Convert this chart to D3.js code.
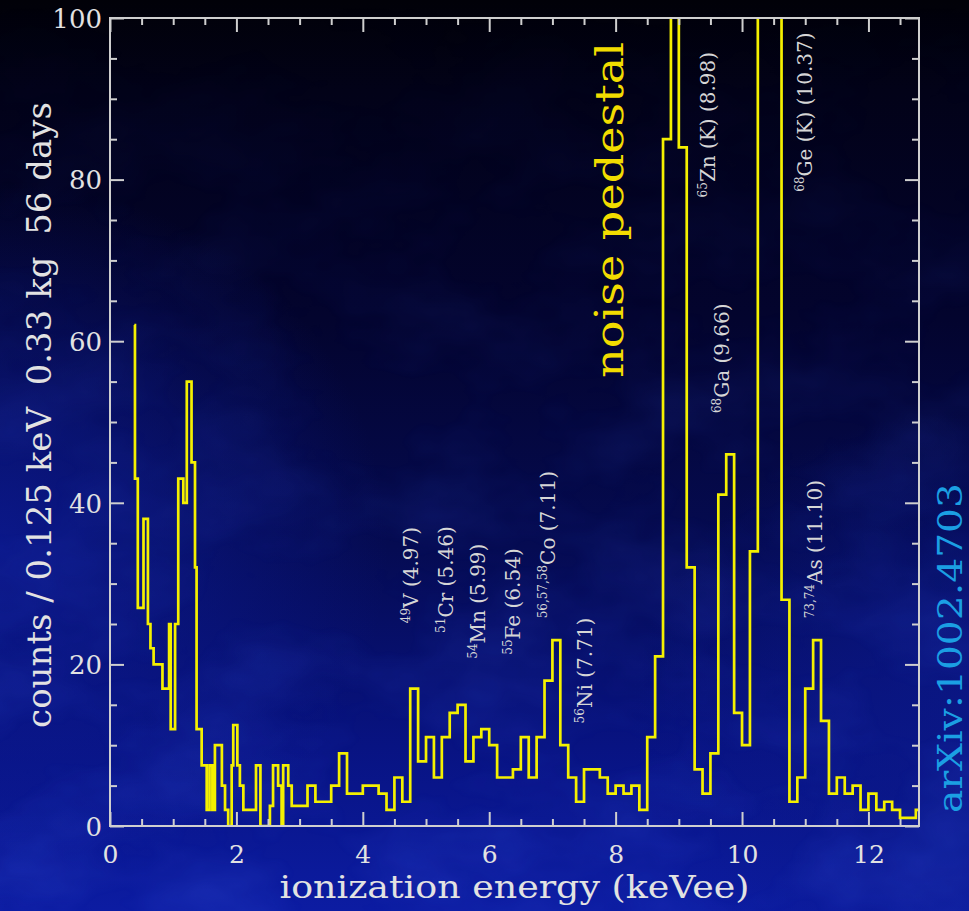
<!DOCTYPE html>
<html>
<head>
<meta charset="utf-8">
<script src="https://cdn.jsdelivr.net/npm/d3@7"></script>
<style>
  html, body { margin: 0; padding: 0; background: #02030f; }
  svg { display: block; }
</style>
</head>
<body>
<svg id="chart" width="969" height="911"></svg>
<script>
// ---- spectrum data -------------------------------------------------------
// Noise-pedestal region: step edges (keVee) and the counts that start there
const lowEdges = [0.385, 0.395, 0.44, 0.53, 0.60, 0.64, 0.69, 0.83, 0.935, 0.96,
                  1.03, 1.08, 1.16, 1.215, 1.29, 1.345, 1.37, 1.45, 1.53, 1.575,
                  1.62, 1.66, 1.77, 1.82, 1.87, 1.925, 1.95, 2.015, 2.055, 2.11,
                  2.31, 2.38, 2.53, 2.58, 2.66, 2.715, 2.74, 2.82, 2.875, 3.125,
                  3.25, 3.5, 3.625, 3.75, 3.875];
const lowCounts = [62, 43, 27, 38, 25, 22, 20, 17, 25, 12,
                   25, 43, 40, 55, 45, 32, 12, 7.5, 2, 7.5,
                   2, 10, 5, 2, 0, 7.5, 12.5, 7.5, 5, 2,
                   7.5, 0, 2.5, 7.5, 5, 0, 7.5, 5, 2.5, 5,
                   3, 5, 9, 4, 4];

// Regular 0.125 keV bins from 4.0 keV upward
const binStart = 4.0;
const binWidth = 0.125;
const binCounts = [5, 5, 4, 2, 6, 3, 17, 8, 11, 6,          // 4.000 - 5.125
                   11, 14, 15, 8, 11, 12, 10, 6, 6, 7,       // 5.250 - 6.375
                   11, 6, 11, 18, 23, 10, 6, 3, 7, 7,        // 6.500 - 7.625
                   6, 4, 5, 4, 5, 2, 11, 21, 85, 190,        // 7.750 - 8.875
                   84, 32, 7, 4, 9, 41, 46, 14, 10, 34,      // 9.000 - 10.125
                   140, 260, 120, 28, 3, 6, 17, 23, 13, 4,   // 10.250 - 11.375
                   6, 4, 5, 2, 4, 2, 3, 2, 1, 1,             // 11.500 - 12.625
                   2];                                       // 12.750

// Axis ticks
const xMajorTicks = [0, 2, 4, 6, 8, 10, 12];
const xMinorTicks = [0.5, 1, 1.5, 2.5, 3, 3.5, 4.5, 5, 5.5, 6.5, 7, 7.5, 8.5, 9, 9.5, 10.5, 11, 11.5, 12.5];
const yMajorTicks = [0, 20, 40, 60, 80, 100];
const yMinorTicks = [5, 10, 15, 25, 30, 35, 45, 50, 55, 65, 70, 75, 85, 90, 95];

// Activation / cosmogenic line identifications
const lineMass = ["49", "51", "54", "55", "56,57,58", "56", "65", "68", "68", "73,74"];
const lineName = ["V (4.97)", "Cr (5.46)", "Mn (5.99)", "Fe (6.54)", "Co (7.11)",
                  "Ni (7.71)", "Zn (K) (8.98)", "Ga (9.66)", "Ge (K) (10.37)", "As (11.10)"];

// ---- layout --------------------------------------------------------------
const W = 969, H = 911;
const L = 110, R = 919, T = 18, B = 826;
const svg = d3.select("#chart");

const x = d3.scaleLinear().domain([0, 12.8]).range([L, R]);
const y = d3.scaleLinear().domain([0, 100]).range([B, T]);

// ---- background ----------------------------------------------------------
const defs = svg.append("defs");
const bg = defs.append("linearGradient").attr("id", "bgGrad")
  .attr("x1", 0).attr("y1", 0).attr("x2", 0).attr("y2", 1);
[[0, "#010108"], [0.1, "#020218"], [0.35, "#03042e"], [0.6, "#050b52"], [0.82, "#081382"], [1, "#0c1ca2"]]
  .forEach(([o, c]) => bg.append("stop").attr("offset", o).attr("stop-color", c));

const glowL = defs.append("radialGradient").attr("id", "glowL")
  .attr("cx", 0.0).attr("cy", 0.6).attr("r", 0.4);
glowL.append("stop").attr("offset", 0).attr("stop-color", "#0c1a94").attr("stop-opacity", 0.85);
glowL.append("stop").attr("offset", 1).attr("stop-color", "#0c1a94").attr("stop-opacity", 0);

const glowR = defs.append("radialGradient").attr("id", "glowR")
  .attr("cx", 1).attr("cy", 0.8).attr("r", 0.35);
glowR.append("stop").attr("offset", 0).attr("stop-color", "#0b1888").attr("stop-opacity", 0.8);
glowR.append("stop").attr("offset", 1).attr("stop-color", "#0b1888").attr("stop-opacity", 0);

// soft cloudy texture, faded out towards the top
const clouds = defs.append("filter").attr("id", "clouds")
  .attr("x", 0).attr("y", 0).attr("width", 1).attr("height", 1);
clouds.append("feTurbulence").attr("type", "fractalNoise")
  .attr("baseFrequency", "0.007 0.011").attr("numOctaves", 4).attr("seed", 11);
clouds.append("feColorMatrix").attr("type", "matrix")
  .attr("values", "0 0 0 0 0.03  0 0 0 0 0.07  0 0 0 0 0.66  1.3 0 0 0 -0.5");

const fade = defs.append("linearGradient").attr("id", "fadeGrad")
  .attr("x1", 0).attr("y1", 0).attr("x2", 0).attr("y2", 1);
fade.append("stop").attr("offset", 0).attr("stop-color", "#000");
fade.append("stop").attr("offset", 0.25).attr("stop-color", "#444");
fade.append("stop").attr("offset", 1).attr("stop-color", "#fff");
defs.append("mask").attr("id", "fadeMask")
  .append("rect").attr("width", W).attr("height", H).attr("fill", "url(#fadeGrad)");

svg.append("rect").attr("width", W).attr("height", H).attr("fill", "url(#bgGrad)");
svg.append("rect").attr("width", W).attr("height", H).attr("fill", "url(#glowL)");
svg.append("rect").attr("width", W).attr("height", H).attr("fill", "url(#glowR)");
svg.append("g").attr("mask", "url(#fadeMask)")
  .append("rect").attr("width", W).attr("height", H)
  .attr("filter", "url(#clouds)").attr("opacity", 0.45);

// ---- histogram -----------------------------------------------------------
defs.append("clipPath").attr("id", "plotClip")
  .append("rect").attr("x", L).attr("y", T).attr("width", R - L).attr("height", B - T);

const steps = lowEdges.map((e, i) => ({ e: e, c: lowCounts[i] }))
  .concat(binCounts.map((c, i) => ({ e: binStart + i * binWidth, c: c })));
steps.push({ e: binStart + binCounts.length * binWidth, c: binCounts[binCounts.length - 1] });

const stepLine = d3.line()
  .x(d => x(d.e))
  .y(d => y(d.c))
  .curve(d3.curveStepAfter);

svg.append("g").attr("clip-path", "url(#plotClip)")
  .append("path")
  .datum(steps)
  .attr("d", stepLine)
  .attr("fill", "none")
  .attr("stroke", "#f4f000")
  .attr("stroke-width", 2.7)
  .attr("stroke-linejoin", "miter");

// ---- axes ----------------------------------------------------------------
const axisColor = "#cfcfcf";
const serif = "'DejaVu Serif', 'Liberation Serif', serif";

function styleAxis(g) {
  g.select(".domain").remove();
  g.selectAll(".tick line").attr("stroke", axisColor).attr("stroke-width", 2);
}

// bottom
svg.append("g").attr("transform", `translate(0,${B})`)
  .call(d3.axisBottom(x).tickValues(xMajorTicks).tickSize(-14).tickFormat(d3.format("d")))
  .call(styleAxis)
  .call(g => g.selectAll(".tick text")
    .attr("y", 37).attr("dy", null)
    .attr("fill", "#e2e2e2").attr("font-family", serif).attr("font-size", 25));
svg.append("g").attr("transform", `translate(0,${B})`)
  .call(d3.axisBottom(x).tickValues(xMinorTicks).tickSize(-7).tickFormat(""))
  .call(styleAxis);
// top
svg.append("g").attr("transform", `translate(0,${T})`)
  .call(d3.axisTop(x).tickValues(xMajorTicks).tickSize(-14).tickFormat(""))
  .call(styleAxis);
svg.append("g").attr("transform", `translate(0,${T})`)
  .call(d3.axisTop(x).tickValues(xMinorTicks).tickSize(-7).tickFormat(""))
  .call(styleAxis);
// left
svg.append("g").attr("transform", `translate(${L},0)`)
  .call(d3.axisLeft(y).tickValues(yMajorTicks).tickSize(-14).tickFormat(d3.format("d")))
  .call(styleAxis)
  .call(g => g.selectAll(".tick text")
    .attr("x", -8).attr("dy", "0.36em")
    .attr("fill", "#e2e2e2").attr("font-family", serif).attr("font-size", 26));
svg.append("g").attr("transform", `translate(${L},0)`)
  .call(d3.axisLeft(y).tickValues(yMinorTicks).tickSize(-7).tickFormat(""))
  .call(styleAxis);
// right
svg.append("g").attr("transform", `translate(${R},0)`)
  .call(d3.axisRight(y).tickValues(yMajorTicks).tickSize(-14).tickFormat(""))
  .call(styleAxis);
svg.append("g").attr("transform", `translate(${R},0)`)
  .call(d3.axisRight(y).tickValues(yMinorTicks).tickSize(-7).tickFormat(""))
  .call(styleAxis);

// frame
svg.append("rect")
  .attr("x", L).attr("y", T).attr("width", R - L).attr("height", B - T)
  .attr("fill", "none").attr("stroke", axisColor).attr("stroke-width", 2);

// axis titles
svg.append("text")
  .attr("x", (L + R) / 2).attr("y", 898)
  .attr("text-anchor", "middle")
  .attr("fill", "#e2e2e2").attr("font-family", serif).attr("font-size", 32)
  .attr("textLength", 470).attr("lengthAdjust", "spacingAndGlyphs")
  .text("ionization energy (keVee)");

svg.append("text")
  .attr("transform", "translate(51,415) rotate(-90)")
  .attr("text-anchor", "middle")
  .attr("fill", "#e2e2e2").attr("font-family", serif).attr("font-size", 34)
  .attr("xml:space", "preserve")
  .text("counts / 0.125 keV  0.33 kg  56 days");

// ---- line identifications -----------------------------------------------
// start point (keVee, counts) of each rotated label
const labelAt = [[4.87, 25.1], [5.42, 23.9], [5.94, 20.7], [6.48, 21.2], [7.04, 25.7],
                 [7.62, 12.7], [9.57, 77.8], [9.80, 51.1], [11.10, 78.5], [11.27, 25.7]];

const lab = svg.append("g")
  .attr("fill", "#d6d6d6").attr("font-family", serif).attr("font-size", 20);
lineName.forEach((name, i) => {
  const t = lab.append("text")
    .attr("transform", `translate(${x(labelAt[i][0])},${y(labelAt[i][1])}) rotate(-90)`)
    .attr("text-anchor", "start");
  t.append("tspan").attr("font-size", 12).attr("dy", -8).text(lineMass[i]);
  t.append("tspan").attr("dy", 8).text(name);
});

// ---- annotations ---------------------------------------------------------
svg.append("text")
  .attr("transform", "translate(623,378) rotate(-90)")
  .attr("text-anchor", "start")
  .attr("fill", "#f2dc00").attr("font-family", serif).attr("font-size", 39)
  .attr("textLength", 336).attr("lengthAdjust", "spacingAndGlyphs")
  .text("noise pedestal");

svg.append("text")
  .attr("transform", "translate(962,813) rotate(-90)")
  .attr("text-anchor", "start")
  .attr("fill", "#1b9fe3").attr("font-family", serif).attr("font-size", 33)
  .attr("textLength", 330).attr("lengthAdjust", "spacingAndGlyphs")
  .text("arXiv:1002.4703");
</script>
</body>
</html>
